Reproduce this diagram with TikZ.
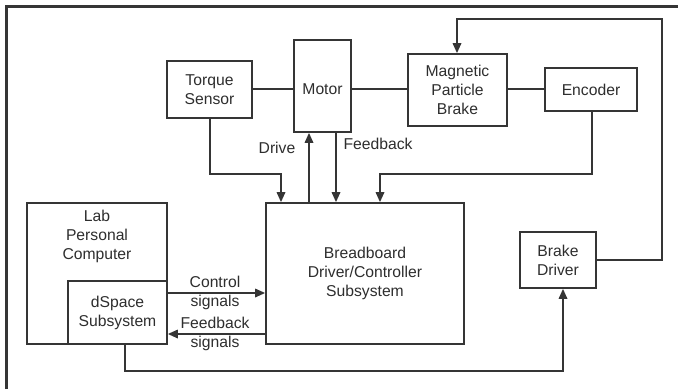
\documentclass[tikz,border=0pt]{standalone}
\usepackage{fontspec}
\setmainfont{Liberation Sans}
\usetikzlibrary{arrows.meta}
\definecolor{ln}{HTML}{353535}
\definecolor{tx}{HTML}{2E2E2E}
\tikzset{
  blk/.style={draw=ln, line width=1.7pt, align=center, inner sep=0pt, text=tx,
              font=\fontsize{15.7}{19}\selectfont},
  lbl/.style={align=center, inner sep=0pt, text=tx, font=\fontsize{15.7}{19}\selectfont},
  wire/.style={draw=ln, line width=1.7pt},
  arr/.style={wire, -{Triangle[length=10pt,width=8.5pt]}},
}
\begin{document}
\begin{tikzpicture}[x=1pt,y=-1pt]
\useasboundingbox (0,0) rectangle (678,389);
\fill[white] (0,0) rectangle (678,389);
\draw[ln, line width=2.2pt] (6.5,389) -- (6.5,6.5) -- (678,6.5);

\node[blk, minimum width=85pt, minimum height=57pt] (ts) at (209.5,89.5) {Torque\\Sensor};
\node[blk, minimum width=57pt, minimum height=92pt] (mo) at (322.5,86) {};
\node[lbl] (mot) at (322.5,89) {Motor};
\node[blk, minimum width=99pt, minimum height=72pt] (mb) at (457.5,90) {Magnetic\\Particle\\Brake};
\node[blk, minimum width=92pt, minimum height=43pt] (en) at (591,89.5) {Encoder};
\node[blk, minimum width=198pt, minimum height=141pt] (bb) at (365,273.5) {Breadboard\\Driver/Controller\\Subsystem};
\node[blk, minimum width=140pt, minimum height=141pt] (pc) at (97,273.5) {};
\node[lbl, anchor=north] (pct) at (97,210) {Lab\\Personal\\Computer};
\node[blk, minimum width=99pt, minimum height=63pt] (ds) at (117.5,312.5) {dSpace\\Subsystem};
\node[blk, minimum width=76pt, minimum height=56pt] (bd) at (558,260) {Brake\\Driver};

% mechanical links
\draw[wire] (ts.east |- 0,89) -- (mo.west |- 0,89);
\draw[wire] (mo.east |- 0,89) -- (mb.west |- 0,89);
\draw[wire] (mb.east |- 0,89) -- (en.west |- 0,89);

% signals to breadboard
\draw[arr] (210,0 |- ts.south) -- (210,174) -- (281,174) -- (281,0 |- bb.north);
\draw[arr] (309,0 |- bb.north) -- (309,0 |- mo.south);
\draw[arr] (336,0 |- mo.south) -- (336,0 |- bb.north);
\draw[arr] (592,0 |- en.south) -- (592,174) -- (380,174) -- (380,0 |- bb.north);
\node[lbl] (ldrive) at (277,148) {Drive};
\node[lbl] (lfb) at (378,144) {Feedback};

% brake driver loop
\draw[arr] (bd.east) -- (662,260) -- (662,19) -- (457,19) -- (457,0 |- mb.north);
\draw[arr] (125,0 |- ds.south) -- (125,371) -- (563,371) -- (563,0 |- bd.south);

% control / feedback signals
\draw[arr] (ds.east |- 0,293) -- (bb.west |- 0,293);
\draw[arr] (bb.west |- 0,334) -- (ds.east |- 0,334);
\node[lbl] (lcs) at (215,292.5) {Control\\signals};
\node[lbl] (lfs) at (215,333.5) {Feedback\\signals};
\end{tikzpicture}
\end{document}
